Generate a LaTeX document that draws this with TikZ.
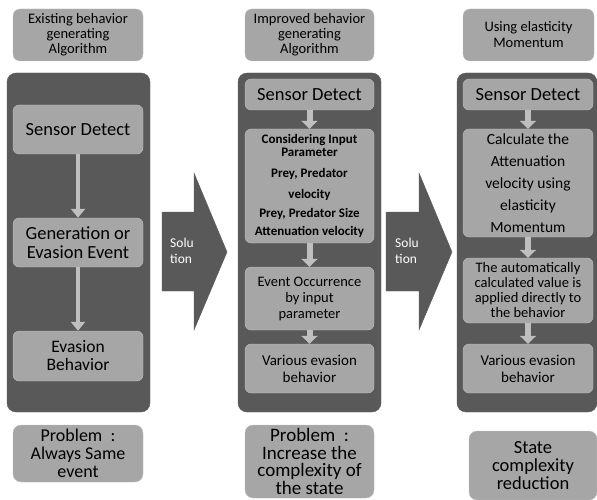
\documentclass[tikz,border=0pt]{standalone}
\usepackage{fontspec}
\setmainfont{Carlito}
\usetikzlibrary{arrows.meta}

\definecolor{boxgray}{HTML}{A6A6A6}
\definecolor{panelgray}{HTML}{595959}
\definecolor{flowgray}{HTML}{BFBFBF}

\begin{document}
\begin{tikzpicture}[x=1pt, y=-1pt,
    titlebox/.style={draw=boxgray!70!white, fill=boxgray, rounded corners=7pt,
      minimum width=130pt, minimum height=52pt, align=center, inner sep=1pt,
      font=\fontsize{14.5}{15}\selectfont},
    panel/.style={fill=panelgray, draw=panelgray, rounded corners=9pt},
    stepbox/.style={draw=flowgray, fill=boxgray, rounded corners=6pt,
      minimum width=129pt, align=center, inner sep=1pt},
    probbox/.style={draw=boxgray!70!white, fill=boxgray, rounded corners=8pt,
      minimum width=130pt, align=center, inner sep=1pt},
    bigarrow/.style={fill=panelgray, draw=panelgray},
    flow/.style={draw=flowgray, line width=4pt, -{Triangle[width=14pt,length=9pt]}},
    shortflow/.style={draw=flowgray, line width=6pt, -{Triangle[width=16pt,length=8pt]}}]

  \useasboundingbox (0,0) rectangle (597,500);

  % existing algorithm
  \node[titlebox] (t1) at (78,35) {Existing behavior\\generating\\Algorithm};
  \draw[panel] (7,73) rectangle (150,412);
  \node[stepbox, minimum width=130pt, minimum height=49pt, font=\fontsize{18.5}{19}\selectfont] (sd1) at (78,129.5) {Sensor Detect};
  \node[stepbox, minimum width=130pt, minimum height=49pt, font=\fontsize{18.5}{19.5}\selectfont] (ge1) at (78,242.5) {Generation or\\Evasion Event};
  \node[stepbox, minimum width=130pt, minimum height=50pt, font=\fontsize{17.5}{18}\selectfont] (eb1) at (78,356) {Evasion\\Behavior};
  \node[probbox, minimum height=57pt, font=\fontsize{18}{18}\selectfont] (pr1) at (78,453.5) {Problem~~:\\Always Same\\event};
  \draw[flow] (sd1) -- (ge1);
  \draw[flow] (ge1) -- (eb1);

  % first solution arrow
  \draw[bigarrow] (162,212) -- (194,212) -- (194,173) -- (227,252) -- (194,330) -- (194,291) -- (162,291) -- cycle;
  \node[text=white, align=left, font=\fontsize{13.5}{16.5}\selectfont] (sol1) at (182,251) {Solu\\tion};

  % improved algorithm
  \node[titlebox, minimum width=129pt] (t2) at (309.5,35) {Improved behavior\\generating\\Algorithm};
  \draw[panel] (238,73) rectangle (381,412);
  \node[stepbox, minimum height=31pt, font=\fontsize{18.5}{19}\selectfont] (sd2) at (309.5,94.5) {Sensor Detect};
  \node[stepbox, minimum height=114pt, font=\bfseries\fontsize{13}{13}\selectfont] (ci2) at (309.5,186)
    {Considering Input\\Parameter\\[8pt]Prey, Predator\\[8pt]velocity\\[6pt]Prey, Predator Size\\[5pt]Attenuation velocity};
  \node[stepbox, minimum height=63pt, font=\fontsize{14.5}{16}\selectfont] (eo2) at (309.5,298.5) {Event Occurrence\\by input\\parameter};
  \node[stepbox, minimum height=49pt, font=\fontsize{15}{17}\selectfont] (ve2) at (309.5,368.5) {Various evasion\\behavior};
  \node[probbox, minimum width=129pt, minimum height=73pt, font=\fontsize{19}{17.7}\selectfont] (pr2) at (309.5,461.5) {Problem~~:\\Increase the\\complexity of\\the state};
  \draw[shortflow] (sd2) -- (ci2);
  \draw[shortflow] (ci2) -- (eo2);
  \draw[shortflow] (eo2) -- (ve2);

  % second solution arrow
  \draw[bigarrow] (386,212) -- (419,212) -- (419,173) -- (452,252) -- (419,330) -- (419,291) -- (386,291) -- cycle;
  \node[text=white, align=left, font=\fontsize{13.5}{16.5}\selectfont] (sol2) at (407,251) {Solu\\tion};

  % elasticity momentum
  \node[titlebox, minimum width=131pt, font=\fontsize{14.5}{16}\selectfont] (t3) at (528.5,35) {Using elasticity\\Momentum};
  \draw[panel] (457,73) rectangle (597,412);
  \node[stepbox, minimum width=130pt, minimum height=31pt, font=\fontsize{18.5}{19}\selectfont] (sd3) at (528,94.5) {Sensor Detect};
  \node[stepbox, minimum width=130pt, minimum height=108pt, font=\fontsize{15.5}{22}\selectfont] (ca3) at (528,183)
    {Calculate the\\Attenuation\\velocity using\\elasticity\\Momentum};
  \node[stepbox, minimum width=130pt, minimum height=65pt, font=\fontsize{14.5}{15}\selectfont] (au3) at (528,290.5)
    {The automatically\\calculated value is\\applied directly to\\the behavior};
  \node[stepbox, minimum width=130pt, minimum height=49pt, font=\fontsize{15}{17}\selectfont] (ve3) at (528,368.5) {Various evasion\\behavior};
  \node[probbox, minimum width=128pt, minimum height=69pt, font=\fontsize{18.5}{18}\selectfont] (st3) at (533,465.5) {State\\complexity\\reduction};
  \draw[shortflow] (sd3) -- (ca3);
  \draw[shortflow] (ca3) -- (au3);
  \draw[shortflow] (au3) -- (ve3);

\end{tikzpicture}
\end{document}
